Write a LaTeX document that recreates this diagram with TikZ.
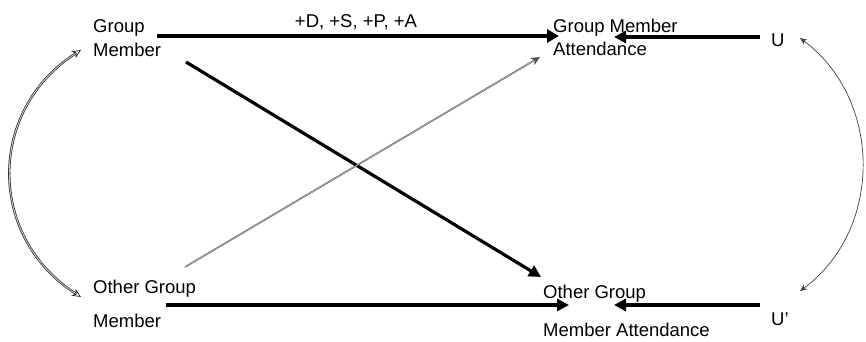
\documentclass[tikz,border=0pt]{standalone}
\usepackage{fontspec}
\setmainfont{Liberation Sans}
\usetikzlibrary{arrows.meta}
\begin{document}
\begin{tikzpicture}[x=1pt,y=-1pt,
  lbl/.style={anchor=base west,inner sep=0pt,font=\fontsize{18.5}{20}\selectfont},
  boldarrow/.style={line width=3.8pt,-{Triangle[length=12pt,width=13pt]}},
  midarrow/.style={line width=3.2pt,-{Triangle[length=12pt,width=12pt]}},
  faint/.style={double=gray!45,double distance=0.6pt,line width=0.5pt,draw=gray!60!black,
    -{Stealth[length=9pt,width=8pt]}},
  dcurve/.style={double=gray!40,double distance=0.9pt,line width=0.7pt,draw=black!85,
    {Stealth[length=9pt,width=8pt,open]}-{Stealth[length=9pt,width=8pt,open]}},
  tcurve/.style={line width=0.7pt,draw=black!75,
    {Stealth[length=7pt,width=6pt]}-{Stealth[length=7pt,width=6pt]}}]
\useasboundingbox (0,0) rectangle (866,342);
% text nodes
\node[lbl] (gm1) at (93,33) {Group};
\node[lbl] (gm2) at (93,57) {Member};
\node[lbl] (gma1) at (553,33) {Group Member};
\node[lbl] (gma2) at (553,56) {Attendance};
\node[lbl] (u) at (771,47) {U};
\node[lbl] (ogm1) at (93,293) {Other Group};
\node[lbl] (ogm2) at (93,327) {Member};
\node[lbl] (ogma1) at (543,298) {Other Group};
\node[lbl] (ogma2) at (543,336) {Member Attendance};
\node[lbl] (u2) at (771,325) {U’};
\node[anchor=base,inner sep=0pt,font=\fontsize{18.5}{20}\selectfont] (lab) at (356,28) {+D, +S, +P, +A};
% connector end points
\coordinate (a1) at (157,36);
\coordinate (a2) at (559,36);
\coordinate (b1) at (760,37);
\coordinate (b2) at (614,37);
\coordinate (c1) at (186,62);
\coordinate (c2) at (541,277);
\coordinate (d1) at (185,267);
\coordinate (d2) at (540,57);
\coordinate (e1) at (166,305);
\coordinate (e2) at (569,305);
\coordinate (f1) at (760,305);
\coordinate (f2) at (614,305);
\coordinate (g1) at (81,50);
\coordinate (g2) at (81,297);
\coordinate (h1) at (800,38);
\coordinate (h2) at (800,291);
% connectors
\draw[boldarrow] (a1) -- (a2);
\draw[midarrow] (b1) -- (b2);
\draw[midarrow] (c1) -- (c2);
\draw[faint] (d1) -- (d2);
\draw[midarrow] (e1) -- (e2);
\draw[midarrow] (f1) -- (f2);
\draw[dcurve] (g1) .. controls (-13,110) and (-13,237) .. (g2);
\draw[tcurve] (h1) .. controls (883,100) and (883,230) .. (h2);
\end{tikzpicture}
\end{document}
